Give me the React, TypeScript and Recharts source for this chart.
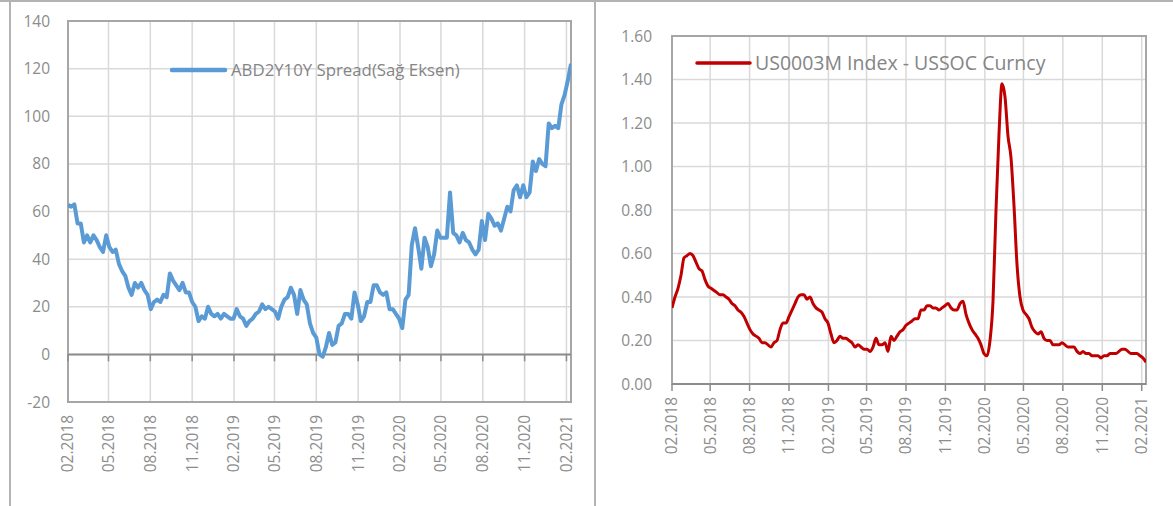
import React from "react";
import {
  LineChart,
  Line,
  XAxis,
  YAxis,
  CartesianGrid,
  ReferenceArea,
  ReferenceLine,
  Legend,
} from "recharts";

// quarterly axis labels, shared by both panels
const QUARTER_LABELS = [
  "02.2018", "05.2018", "08.2018", "11.2018",
  "02.2019", "05.2019", "08.2019", "11.2019",
  "02.2020", "05.2020", "08.2020", "11.2020",
  "02.2021",
];

// weekly ABD 2Y-10Y spread (bp), Feb 2018 -> Feb 2021
const SPREAD_2Y10Y = [
  62.8, 62, 63, 55, 55, 47, 50, 47, 50, 48,
  45, 43, 50, 45, 43, 44, 38, 35, 33, 28,
  25, 30, 28, 30, 27, 25, 19, 22, 23, 22,
  25, 24, 34, 31, 29, 27, 30, 26, 26, 22,
  20, 14, 16, 15, 20, 17, 16, 17, 15, 17,
  16, 15, 15, 19, 16, 15, 12, 14, 15, 17,
  18, 21, 19, 20, 19, 18, 15, 20, 23, 24,
  28, 25, 17, 27, 23, 21, 13, 9, 7, 0,
  -1, 3, 9, 4, 5, 12, 13, 17, 17, 15,
  26, 21, 14, 16, 22, 22, 29, 29, 26, 25,
  26, 19, 19, 17, 15, 11, 23, 25, 46, 53,
  45, 36, 49, 45, 37, 42, 52, 49, 49, 49,
  68, 51, 50, 47, 51, 48, 47, 44, 42, 44,
  56, 48, 59, 57, 54, 55, 52, 57, 62, 60,
  69, 71, 66, 71, 66, 68, 81, 77, 82, 80,
  79, 97, 95, 96, 95, 105, 109, 115, 122,
];

// weekly US0003M Index - USSOC Curncy (%)
const LIBOR_OIS = [
  0.35, 0.40, 0.44, 0.50, 0.58, 0.59, 0.60, 0.59, 0.56, 0.53,
  0.52, 0.48, 0.45, 0.44, 0.43, 0.42, 0.41, 0.41, 0.40, 0.39,
  0.37, 0.36, 0.34, 0.33, 0.31, 0.28, 0.25, 0.23, 0.22, 0.21,
  0.19, 0.19, 0.18, 0.17, 0.19, 0.20, 0.25, 0.28, 0.28, 0.31,
  0.34, 0.37, 0.40, 0.41, 0.41, 0.39, 0.40, 0.37, 0.35, 0.34,
  0.33, 0.30, 0.28, 0.23, 0.19, 0.20, 0.22, 0.21, 0.21, 0.20,
  0.19, 0.17, 0.18, 0.17, 0.16, 0.16, 0.15, 0.17, 0.21, 0.18,
  0.18, 0.19, 0.15, 0.22, 0.20, 0.22, 0.24, 0.25, 0.27, 0.28,
  0.29, 0.30, 0.30, 0.34, 0.34, 0.36, 0.36, 0.35, 0.35, 0.34,
  0.35, 0.36, 0.37, 0.35, 0.34, 0.34, 0.37, 0.38, 0.32, 0.28,
  0.25, 0.23, 0.21, 0.18, 0.14, 0.13, 0.20, 0.38, 0.80, 1.15,
  1.38, 1.32, 1.14, 1.04, 0.82, 0.55, 0.40, 0.34, 0.32, 0.30,
  0.26, 0.24, 0.23, 0.24, 0.21, 0.20, 0.20, 0.18, 0.18, 0.18,
  0.19, 0.18, 0.17, 0.17, 0.17, 0.15, 0.14, 0.15, 0.14, 0.14,
  0.13, 0.13, 0.13, 0.12, 0.13, 0.13, 0.14, 0.14, 0.14, 0.15,
  0.16, 0.16, 0.15, 0.14, 0.14, 0.14, 0.13, 0.12, 0.10,
];

const SPREAD_TICKS = [-20, 0, 20, 40, 60, 80, 100, 120, 140];
const LIBOR_TICKS = [0, 0.2, 0.4, 0.6, 0.8, 1.0, 1.2, 1.4, 1.6];

const DAY = 86400000;
const START = Date.UTC(2018, 1, 2);
const weekDate = (i: number) => START + i * 7 * DAY;
const QUARTER_TICKS = QUARTER_LABELS.map((_, k) => Date.UTC(2018, 1 + 3 * k, 2));

const spreadData = SPREAD_2Y10Y.map((v, i) => ({ t: weekDate(i), v }));
const liborData = LIBOR_OIS.map((v, i) => ({ t: weekDate(i), v }));
const END = weekDate(SPREAD_2Y10Y.length - 1);

const FONT = "'Open Sans', 'Noto Sans', sans-serif";
const TEXT = "#8c8c8c";
const GRID = "#d9d9d9";
const BORDER = "#a6a6a6";
const AXIS = "#8c8c8c";

const RotatedTick = (props: any) => {
  const { x, y, payload } = props;
  const idx = QUARTER_TICKS.indexOf(payload.value);
  return (
    <text
      x={x}
      y={y}
      dy="0.35em"
      transform={`rotate(-90 ${x} ${y})`}
      textAnchor="end"
      fill={TEXT}
      fontSize={15.5}
    >
      {QUARTER_LABELS[idx]}
    </text>
  );
};

const LegendChip = ({ color, width, label, fontSize, gap }: any) => (
  <div style={{ display: "flex", alignItems: "center", whiteSpace: "nowrap", fontFamily: FONT }}>
    <svg width={58} height={10} style={{ display: "block" }}>
      <line x1={2} y1={5} x2={55} y2={5} stroke={color} strokeWidth={width} strokeLinecap="round" />
    </svg>
    <span style={{ fontSize, color: "#858585", marginLeft: gap, lineHeight: 1.35 }}>{label}</span>
  </div>
);

function SpreadChart() {
  return (
    <LineChart
      width={600}
      height={506}
      data={spreadData}
      margin={{ top: 21, right: 29, left: 10, bottom: 14 }}
    >
      <CartesianGrid stroke={GRID} strokeWidth={1.5} />
      <XAxis
        type="number"
        dataKey="t"
        domain={[START, END]}
        ticks={QUARTER_TICKS}
        interval={0}
        axisLine={false}
        tickLine={false}
        tickSize={0}
        tickMargin={13}
        height={90}
        tick={<RotatedTick />}
        allowDataOverflow
      />
      <YAxis
        type="number"
        domain={[-20, 140]}
        ticks={SPREAD_TICKS}
        interval={0}
        axisLine={false}
        tickLine={false}
        tickSize={0}
        tickMargin={18}
        width={58}
        tick={{ fill: TEXT, fontSize: 15.5 }}
      />
      <ReferenceArea
        x1={START}
        x2={END}
        y1={-20}
        y2={140}
        fill="none"
        fillOpacity={0}
        stroke={BORDER}
        strokeWidth={2}
        ifOverflow="visible"
      />
      <ReferenceLine y={0} stroke={AXIS} strokeWidth={2} />
      {QUARTER_TICKS.map((t) => (
        <ReferenceLine
          key={t}
          segment={[{ x: t, y: 0 }, { x: t, y: -2.9 }]}
          stroke={AXIS}
          strokeWidth={1.5}
        />
      ))}
      <Legend
        layout="horizontal"
        verticalAlign="middle"
        align="center"
        wrapperStyle={{ top: 59, left: 170, width: 400, height: 24 }}
        content={() => (
          <LegendChip color="#5b9bd5" width={4.5} label="ABD2Y10Y Spread(Sağ Eksen)" fontSize={16.8} gap={3} />
        )}
      />
      <Line
        type="linear"
        dataKey="v"
        stroke="#5b9bd5"
        strokeWidth={4}
        strokeLinejoin="round"
        dot={false}
        activeDot={false}
        isAnimationActive={false}
      />
    </LineChart>
  );
}

function LiborChart() {
  return (
    <LineChart
      width={578}
      height={506}
      data={liborData}
      margin={{ top: 36, right: 27, left: 0, bottom: 22 }}
    >
      <CartesianGrid stroke={GRID} strokeWidth={1.5} />
      <XAxis
        type="number"
        dataKey="t"
        domain={[START, END]}
        ticks={QUARTER_TICKS}
        interval={0}
        axisLine={false}
        tickLine={{ stroke: AXIS, strokeWidth: 1.5 }}
        tickSize={7}
        tickMargin={6}
        height={100}
        tick={<RotatedTick />}
        allowDataOverflow
      />
      <YAxis
        type="number"
        domain={[0, 1.6]}
        ticks={LIBOR_TICKS}
        interval={0}
        axisLine={false}
        tickLine={false}
        tickSize={0}
        tickMargin={20}
        width={77}
        tick={{ fill: TEXT, fontSize: 15.5 }}
        tickFormatter={(v: number) => v.toFixed(2)}
      />
      <ReferenceArea
        x1={START}
        x2={END}
        y1={0}
        y2={1.6}
        fill="none"
        fillOpacity={0}
        stroke={BORDER}
        strokeWidth={2}
        ifOverflow="visible"
      />
      <ReferenceLine y={0} stroke={AXIS} strokeWidth={2} />
      <Legend
        layout="horizontal"
        verticalAlign="middle"
        align="center"
        wrapperStyle={{ top: 50, left: 100, width: 440, height: 28 }}
        content={() => (
          <LegendChip color="#c00000" width={3.5} label="US0003M Index - USSOC Curncy" fontSize={19.5} gap={2} />
        )}
      />
      <Line
        type="monotone"
        dataKey="v"
        stroke="#c00000"
        strokeWidth={3}
        strokeLinejoin="round"
        dot={false}
        activeDot={false}
        isAnimationActive={false}
      />
    </LineChart>
  );
}

export default function App() {
  return (
    <div
      style={{
        position: "absolute",
        top: 0,
        left: 0,
        width: 1173,
        height: 506,
        background: "#fff",
        fontFamily: FONT,
        overflow: "hidden",
      }}
    >
      {/* outer frame pieces */}
      <div style={{ position: "absolute", top: 0, left: 0, width: 1173, height: 2, background: "#b3b3b3" }} />
      <div style={{ position: "absolute", top: 0, left: 9, width: 2, height: 506, background: "#b3b3b3" }} />
      <div style={{ position: "absolute", top: 0, left: 594, width: 2, height: 506, background: "#b3b3b3" }} />
      <div style={{ position: "absolute", top: 0, left: 0 }}>
        <SpreadChart />
      </div>
      <div style={{ position: "absolute", top: 0, left: 595 }}>
        <LiborChart />
      </div>
    </div>
  );
}
